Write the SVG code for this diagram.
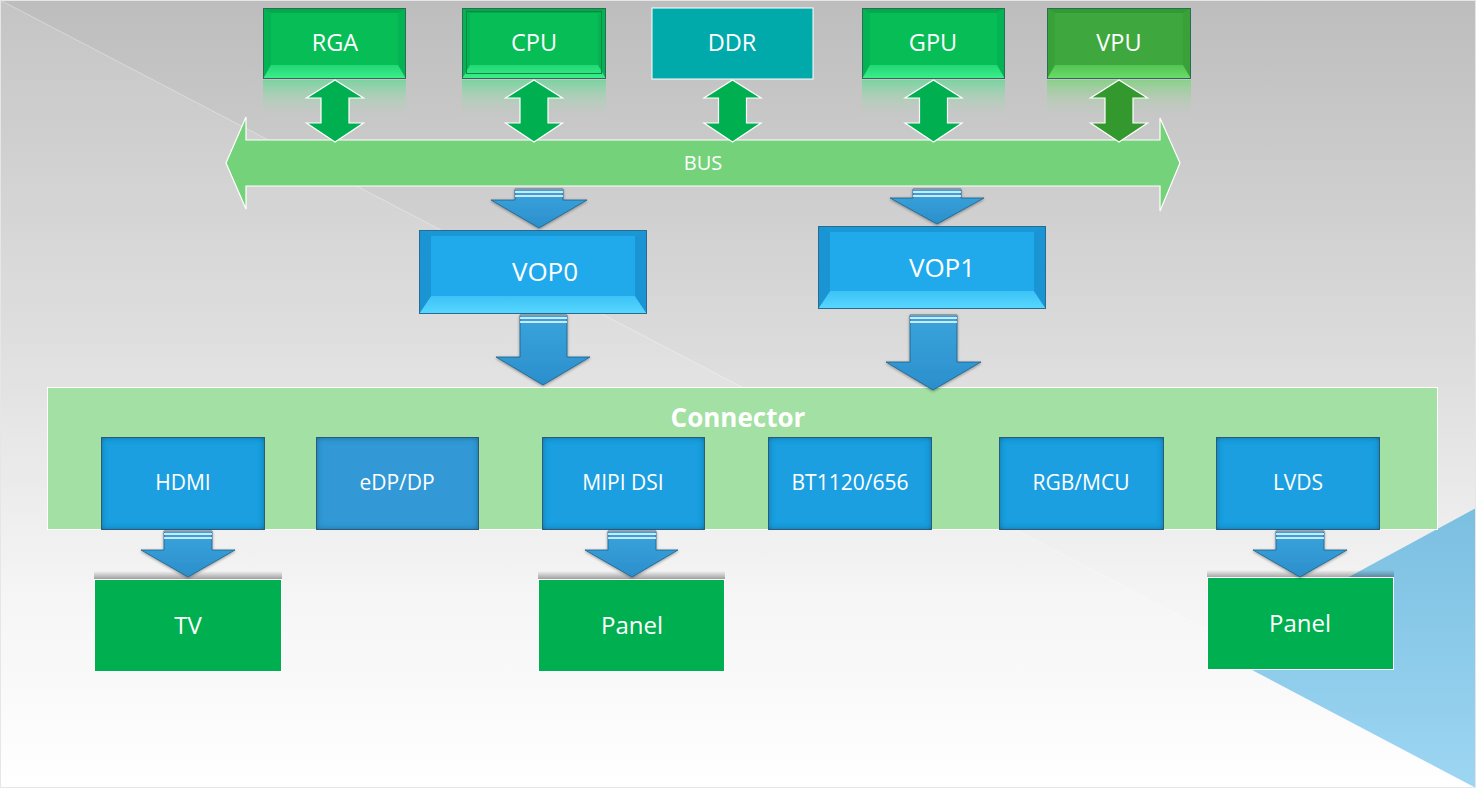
<svg xmlns="http://www.w3.org/2000/svg" width="1476" height="788" viewBox="0 0 1476 788">
<defs>
<style>
text{font-family:"Open Sans","Noto Sans","Liberation Sans",sans-serif;fill:#fff;text-anchor:middle}
.lbl{font-size:23.5px}
.cl{font-size:21px}
.vop{font-size:26px}
.dev{font-size:24px}
.gT{fill:#05a84c}.gB{fill:url(#gbev)}.gS{fill:#04b454}.gF{fill:#06bd56}
.vT{fill:#329a32}.vB{fill:url(#vbev)}.vS{fill:#38a238}.vF{fill:#3ea83e}
.bT{fill:#1a98d6}.bB{fill:url(#bbev)}.bS{fill:#1ca2e2}.bF{fill:#20aaec}
.edge{fill:none;stroke:#2b6c55;stroke-width:1}
.bedge{fill:none;stroke:#2a6990;stroke-width:1}
.dbl{fill:#00b050;stroke:#fff;stroke-width:1.2}
.dblv{fill:#33992f;stroke:#fff;stroke-width:1.2}
.down{fill:url(#dgrad);stroke:#1d5f88;stroke-width:0.8;filter:url(#dsh)}
.stripe{stroke:#fff;stroke-width:1.6}
.stripeg{stroke:#8a9aa4;stroke-width:1.2}
.ibox{fill:#1d9fe0;filter:url(#inset)}
.dbox{fill:#00b050;stroke:#fff;stroke-width:1}
</style>
<linearGradient id="bg" x1="0" y1="0" x2="0" y2="1">
<stop offset="0" stop-color="#bdbdbd"/>
<stop offset="0.45" stop-color="#dcdcdc"/>
<stop offset="0.75" stop-color="#f4f4f4"/>
<stop offset="1" stop-color="#ffffff"/>
</linearGradient>
<linearGradient id="tri" x1="0" y1="0" x2="0" y2="1">
<stop offset="0" stop-color="#7bbfe0"/>
<stop offset="1" stop-color="#9dd6f3"/>
</linearGradient>
<linearGradient id="gbev" x1="0" y1="0" x2="0" y2="1">
<stop offset="0" stop-color="#22d874"/>
<stop offset="1" stop-color="#3cf08c"/>
</linearGradient>
<linearGradient id="vbev" x1="0" y1="0" x2="0" y2="1">
<stop offset="0" stop-color="#52c452"/>
<stop offset="1" stop-color="#6ade6a"/>
</linearGradient>
<linearGradient id="bbev" x1="0" y1="0" x2="0" y2="1">
<stop offset="0" stop-color="#3cc2f6"/>
<stop offset="1" stop-color="#58d8ff"/>
</linearGradient>
<linearGradient id="refl" x1="0" y1="0" x2="0" y2="1">
<stop offset="0" stop-color="#6ed69a" stop-opacity="0.85"/>
<stop offset="0.5" stop-color="#9fd6b0" stop-opacity="0.45"/>
<stop offset="1" stop-color="#c8c8c8" stop-opacity="0"/>
</linearGradient>
<linearGradient id="reflv" x1="0" y1="0" x2="0" y2="1">
<stop offset="0" stop-color="#7fd27f" stop-opacity="0.85"/>
<stop offset="0.5" stop-color="#a8d0a8" stop-opacity="0.45"/>
<stop offset="1" stop-color="#c8c8c8" stop-opacity="0"/>
</linearGradient>
<linearGradient id="dgrad" x1="0" y1="0" x2="0" y2="1">
<stop offset="0" stop-color="#3aa4dc"/>
<stop offset="1" stop-color="#2b8fcc"/>
</linearGradient>
<linearGradient id="topsh" x1="0" y1="0" x2="0" y2="1">
<stop offset="0" stop-color="#000" stop-opacity="0"/>
<stop offset="1" stop-color="#000" stop-opacity="0.35"/>
</linearGradient>
<filter id="inset" x="-5%" y="-5%" width="110%" height="110%">
<feFlood flood-color="#0b3550" flood-opacity="0.85"/>
<feComposite in2="SourceAlpha" operator="out"/>
<feGaussianBlur stdDeviation="3"/>
<feComposite in2="SourceAlpha" operator="in" result="sh"/>
<feMerge><feMergeNode in="SourceGraphic"/><feMergeNode in="sh"/></feMerge>
</filter>
<filter id="dsh" x="-20%" y="-20%" width="140%" height="140%">
<feGaussianBlur in="SourceAlpha" stdDeviation="1.5"/>
<feOffset dy="1"/>
<feComponentTransfer><feFuncA type="linear" slope="0.4"/></feComponentTransfer>
<feMerge><feMergeNode/><feMergeNode in="SourceGraphic"/></feMerge>
</filter>
</defs>

<!-- background -->
<rect x="0" y="0" width="1476" height="788" fill="url(#bg)"/>
<polygon points="0,0 1476,770 1476,788 0,788" fill="#ffffff" opacity="0.12"/>
<line x1="0" y1="0" x2="1240" y2="647" stroke="#ffffff" stroke-opacity="0.35" stroke-width="1"/>
<polygon points="1476,508 1214,650 1476,788" fill="url(#tri)"/>
<rect x="0.5" y="0.5" width="1475" height="787" fill="none" stroke="#e6e6e6" stroke-width="1"/>

<!-- reflections under top boxes -->
<g id="reflections">
<rect x="263" y="80" width="143" height="40" fill="url(#refl)"/>
<rect x="462" y="80" width="144" height="40" fill="url(#refl)"/>
<rect x="862" y="80" width="143" height="40" fill="url(#refl)"/>
<rect x="1047" y="80" width="144" height="40" fill="url(#reflv)"/>
</g>

<!-- BUS -->
<g id="bus">
<polygon points="226,163 246,117 246,140 1160,140 1160,118 1180,163 1160,211 1160,186 246,186 246,209" fill="#74d27a" stroke="#ffffff" stroke-width="1.2"/>
<text x="703" y="170" style="font-size:20px">BUS</text>
</g>

<!-- top nodes -->
<g id="node-rga">
<rect x="263" y="8" width="143" height="71" class="gS"/>
<polygon points="263,8 406,8 398,13 271,13" class="gT"/>
<polygon points="263,79 406,79 398,65 271,65" class="gB"/>
<rect x="271" y="13" width="127" height="52" class="gF"/>
<rect x="263.5" y="8.5" width="142" height="70" class="edge"/>
<text x="335" y="51" class="lbl">RGA</text>
</g>
<g id="node-cpu">
<rect x="462" y="8" width="144" height="71" class="gS"/>
<polygon points="462,8 606,8 598,13 470,13" class="gT"/>
<polygon points="462,79 606,79 598,65 470,65" class="gB"/>
<rect x="470" y="13" width="128" height="52" class="gF"/>
<rect x="462.5" y="8.5" width="143" height="70" class="edge"/>
<rect x="466.5" y="11.5" width="135" height="62" fill="none" stroke="#078a40" stroke-width="1"/>
<text x="534" y="51" class="lbl">CPU</text>
</g>
<g id="node-ddr">
<rect x="652" y="8" width="161" height="71" fill="#00aaaa" stroke="#ffffff" stroke-width="1"/>
<text x="732" y="51" class="lbl">DDR</text>
</g>
<g id="node-gpu">
<rect x="862" y="8" width="143" height="71" class="gS"/>
<polygon points="862,8 1005,8 997,13 870,13" class="gT"/>
<polygon points="862,79 1005,79 997,65 870,65" class="gB"/>
<rect x="870" y="13" width="127" height="52" class="gF"/>
<rect x="862.5" y="8.5" width="142" height="70" class="edge"/>
<text x="933" y="51" class="lbl">GPU</text>
</g>
<g id="node-vpu">
<rect x="1047" y="8" width="144" height="71" class="vS"/>
<polygon points="1047,8 1191,8 1183,13 1055,13" class="vT"/>
<polygon points="1047,79 1191,79 1183,65 1055,65" class="vB"/>
<rect x="1055" y="13" width="128" height="52" class="vF"/>
<rect x="1047.5" y="8.5" width="143" height="70" class="edge"/>
<text x="1119" y="51" class="lbl">VPU</text>
</g>

<!-- VOP nodes -->
<g id="node-vop0">
<rect x="419" y="230" width="228" height="84" class="bS"/>
<polygon points="419,230 647,230 635,236 431,236" class="bT"/>
<polygon points="419,314 647,314 635,296 431,296" class="bB"/>
<polygon points="419,230 431,236 431,296 419,314" fill="#1a94d2"/>
<polygon points="647,230 635,236 635,296 647,314" fill="#1a94d2"/>
<rect x="431" y="236" width="204" height="60" class="bF"/>
<rect x="419.5" y="230.5" width="227" height="83" class="bedge"/>
<text x="545" y="281" class="vop">VOP0</text>
</g>
<g id="node-vop1">
<rect x="818" y="226" width="228" height="83" class="bS"/>
<polygon points="818,226 1046,226 1034,232 830,232" class="bT"/>
<polygon points="818,309 1046,309 1034,291 830,291" class="bB"/>
<polygon points="818,226 830,232 830,291 818,309" fill="#1a94d2"/>
<polygon points="1046,226 1034,232 1034,291 1046,309" fill="#1a94d2"/>
<rect x="830" y="232" width="204" height="59" class="bF"/>
<rect x="818.5" y="226.5" width="227" height="82" class="bedge"/>
<text x="942" y="277" class="vop">VOP1</text>
</g>

<!-- Connector panel -->
<g id="node-connector">
<rect x="47.5" y="387.5" width="1390" height="142" fill="#a3e0a3" stroke="#ffffff" stroke-width="1"/>
<text x="738" y="427" style="font-size:26px;font-weight:bold">Connector</text>
</g>
<g id="node-hdmi">
<rect x="101" y="437" width="164" height="93" class="ibox"/>
<rect x="101.5" y="437.5" width="163" height="92" fill="none" stroke="#2d5a78" stroke-width="1"/>
<text x="183" y="490" class="cl">HDMI</text>
</g>
<g id="node-edp">
<rect x="316" y="437" width="163" height="93" class="ibox" style="fill:#3099d6"/>
<rect x="316.5" y="437.5" width="162" height="92" fill="none" stroke="#2d5a78" stroke-width="1"/>
<text x="397" y="490" class="cl">eDP/DP</text>
</g>
<g id="node-mipi">
<rect x="542" y="437" width="163" height="93" class="ibox"/>
<rect x="542.5" y="437.5" width="162" height="92" fill="none" stroke="#2d5a78" stroke-width="1"/>
<text x="623" y="490" class="cl">MIPI DSI</text>
</g>
<g id="node-bt">
<rect x="768" y="437" width="164" height="93" class="ibox"/>
<rect x="768.5" y="437.5" width="163" height="92" fill="none" stroke="#2d5a78" stroke-width="1"/>
<text x="850" y="490" class="cl">BT1120/656</text>
</g>
<g id="node-rgb">
<rect x="999" y="437" width="165" height="93" class="ibox"/>
<rect x="999.5" y="437.5" width="164" height="92" fill="none" stroke="#2d5a78" stroke-width="1"/>
<text x="1081" y="490" class="cl">RGB/MCU</text>
</g>
<g id="node-lvds">
<rect x="1216" y="437" width="164" height="93" class="ibox"/>
<rect x="1216.5" y="437.5" width="163" height="92" fill="none" stroke="#2d5a78" stroke-width="1"/>
<text x="1298" y="490" class="cl">LVDS</text>
</g>

<!-- output devices -->
<g id="node-tv">
<rect x="94" y="571" width="188" height="8" fill="url(#topsh)"/>
<rect x="94.5" y="579.5" width="187" height="92" class="dbox"/>
<text x="188" y="634" class="dev">TV</text>
</g>
<g id="node-panel1">
<rect x="538" y="571" width="187" height="8" fill="url(#topsh)"/>
<rect x="538.5" y="579.5" width="186" height="92" class="dbox"/>
<text x="632" y="634" class="dev">Panel</text>
</g>
<g id="node-panel2">
<rect x="1207" y="570" width="187" height="8" fill="url(#topsh)"/>
<rect x="1207.5" y="577.5" width="186" height="92" class="dbox"/>
<text x="1300" y="632" class="dev">Panel</text>
</g>

<!-- connectors -->
<g id="connectors">
<polygon class="dbl" points="335,80 363.5,98 349,98 349,123 363.5,123 335,142 306.5,123 321,123 321,98 306.5,98"/>
<polygon class="dbl" points="534,80 562.5,98 548,98 548,123 562.5,123 534,142 505.5,123 520,123 520,98 505.5,98"/>
<polygon class="dbl" points="732.5,80 761,98 746.5,98 746.5,123 761,123 732.5,142 704,123 718.5,123 718.5,98 704,98"/>
<polygon class="dbl" points="933.5,80 962,98 947.5,98 947.5,123 962,123 933.5,142 905,123 919.5,123 919.5,98 905,98"/>
<polygon class="dblv" points="1119,80 1147.5,98 1133,98 1133,123 1147.5,123 1119,142 1090.5,123 1105,123 1105,98 1090.5,98"/>

<polygon class="down" points="515,189 563,189 563,200 587,200 539,228 491,200 515,200"/>
<line class="stripeg" x1="515" y1="189.5" x2="563" y2="189.5"/>
<line class="stripe" x1="515" y1="192" x2="563" y2="192"/>
<line class="stripe" x1="515" y1="196" x2="563" y2="196"/>

<polygon class="down" points="913,189 961,189 961,198 984,198 937,224 890,198 913,198"/>
<line class="stripeg" x1="913" y1="189.5" x2="961" y2="189.5"/>
<line class="stripe" x1="913" y1="192" x2="961" y2="192"/>
<line class="stripe" x1="913" y1="196" x2="961" y2="196"/>

<polygon class="down" points="520,315 567,315 567,357 590,357 543,385 496,357 520,357"/>
<line class="stripeg" x1="520" y1="315.5" x2="567" y2="315.5"/>
<line class="stripe" x1="520" y1="318" x2="567" y2="318"/>
<line class="stripe" x1="520" y1="322" x2="567" y2="322"/>

<polygon class="down" points="910,315 957,315 957,362 981,362 933,390 886,362 910,362"/>
<line class="stripeg" x1="910" y1="315.5" x2="957" y2="315.5"/>
<line class="stripe" x1="910" y1="318" x2="957" y2="318"/>
<line class="stripe" x1="910" y1="322" x2="957" y2="322"/>

<polygon class="down" points="164,531 212,531 212,550 235,550 188,577 141,550 164,550"/>
<line class="stripeg" x1="164" y1="531.5" x2="212" y2="531.5"/>
<line class="stripe" x1="164" y1="534" x2="212" y2="534"/>
<line class="stripe" x1="164" y1="538" x2="212" y2="538"/>

<polygon class="down" points="608,531 656,531 656,550 678,550 632,577 585,550 608,550"/>
<line class="stripeg" x1="608" y1="531.5" x2="656" y2="531.5"/>
<line class="stripe" x1="608" y1="534" x2="656" y2="534"/>
<line class="stripe" x1="608" y1="538" x2="656" y2="538"/>

<polygon class="down" points="1276,531 1324,531 1324,550 1347,550 1300,577 1253,550 1276,550"/>
<line class="stripeg" x1="1276" y1="531.5" x2="1324" y2="531.5"/>
<line class="stripe" x1="1276" y1="534" x2="1324" y2="534"/>
<line class="stripe" x1="1276" y1="538" x2="1324" y2="538"/>
</g>
</svg>
